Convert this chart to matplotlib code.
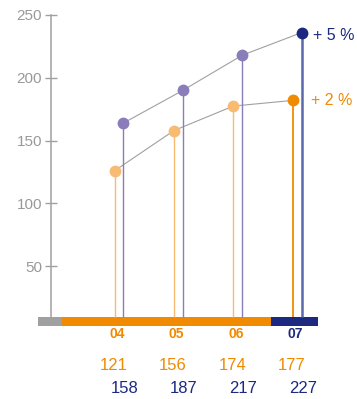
import matplotlib
matplotlib.use("Agg")
import matplotlib.pyplot as plt

plt.rcParams['font.family'] = ['Liberation Sans', 'DejaVu Sans']

years = ["04", "05", "06", "07"]
orange_label = [121, 156, 174, 177]
navy_label = [158, 187, 217, 227]
# marker heights as drawn in the reference
orange_pos = [126, 158, 177.5, 182]
navy_pos = [164, 190, 218, 236]
growth_labels = ["+ 5 %", "+ 2 %"]
yticks = [50, 100, 150, 200, 250]

C_OR = "#F08A00"
C_OR_L = "#F8BB72"
C_PU = "#8A7DBA"
C_NA = "#1B2A80"
C_NA_S = "#5A68AE"
C_GR = "#A0A0A0"

fig = plt.figure(figsize=(3.57, 3.99), dpi=100)
ax = fig.add_axes([38/357, (399-325.5)/399, 280/357, (325.5-15)/399])
ax.set_xlim(-1.364, 3.35)
ax.set_ylim(2.8, 250)
base = 9.5

x = list(range(len(years)))
off = 0.075
xo = [i - off for i in x]
xn = [i + off for i in x]

# bottom band
ax.fill_between([-1.364, -0.96], 2.8, base, color="#A0A0A0", lw=0)
ax.fill_between([-0.96, 2.56], 2.8, base, color=C_OR, lw=0)
ax.fill_between([2.56, 3.35], 2.8, base, color=C_NA, lw=0)

# connecting lines
ax.plot(xo, orange_pos, color=C_GR, lw=0.8, zorder=2)
ax.plot(xn, navy_pos, color=C_GR, lw=0.8, zorder=2)

# stems and markers
for i in x:
    last = i == len(x) - 1
    co = C_OR if last else C_OR_L
    cn_s = C_NA_S if last else C_PU
    cn_m = C_NA if last else C_PU
    ax.vlines(xo[i], base, orange_pos[i], color=co, lw=1.3 if last else 1.0, zorder=3)
    ax.vlines(xn[i], base, navy_pos[i], color=cn_s, lw=1.8 if last else 1.0, zorder=3)
    ax.plot(xo[i], orange_pos[i], 'o', ms=8.5, color=co, mec='none', zorder=4)
    ax.plot(xn[i], navy_pos[i], 'o', ms=8.5, color=cn_m, mec='none', zorder=4)
    ax.text(i - 0.03, -4.0, years[i], ha='center', va='center', fontsize=10,
            fontweight='bold', color=C_NA if last else C_OR, clip_on=False)
    ax.text(xo[i] - 0.02, -28.7, str(orange_label[i]), ha='center', va='center',
            fontsize=12, color=C_OR, clip_on=False)
    ax.text(xn[i] + 0.02, -47, str(navy_label[i]), ha='center', va='center',
            fontsize=12, color=C_NA, clip_on=False)

ax.text(3.27, 234, growth_labels[0], ha='left', va='center', fontsize=11.5,
        color=C_NA, clip_on=False)
ax.text(3.23, 182, growth_labels[1], ha='left', va='center', fontsize=11.5,
        color=C_OR, clip_on=False)

for s in ['top', 'right', 'bottom']:
    ax.spines[s].set_visible(False)
ax.spines['left'].set_position(('data', -1.145))
ax.spines['left'].set_bounds(base, 250)
ax.spines['left'].set_color(C_GR)
ax.spines['left'].set_linewidth(1.1)
ax.set_xticks([])
ax.set_yticks(yticks)
ax.tick_params(axis='y', direction='inout', length=9, width=1.0, color=C_GR,
               labelcolor="#999999", labelsize=11, pad=2)

fig.savefig("out.png", dpi=100)
